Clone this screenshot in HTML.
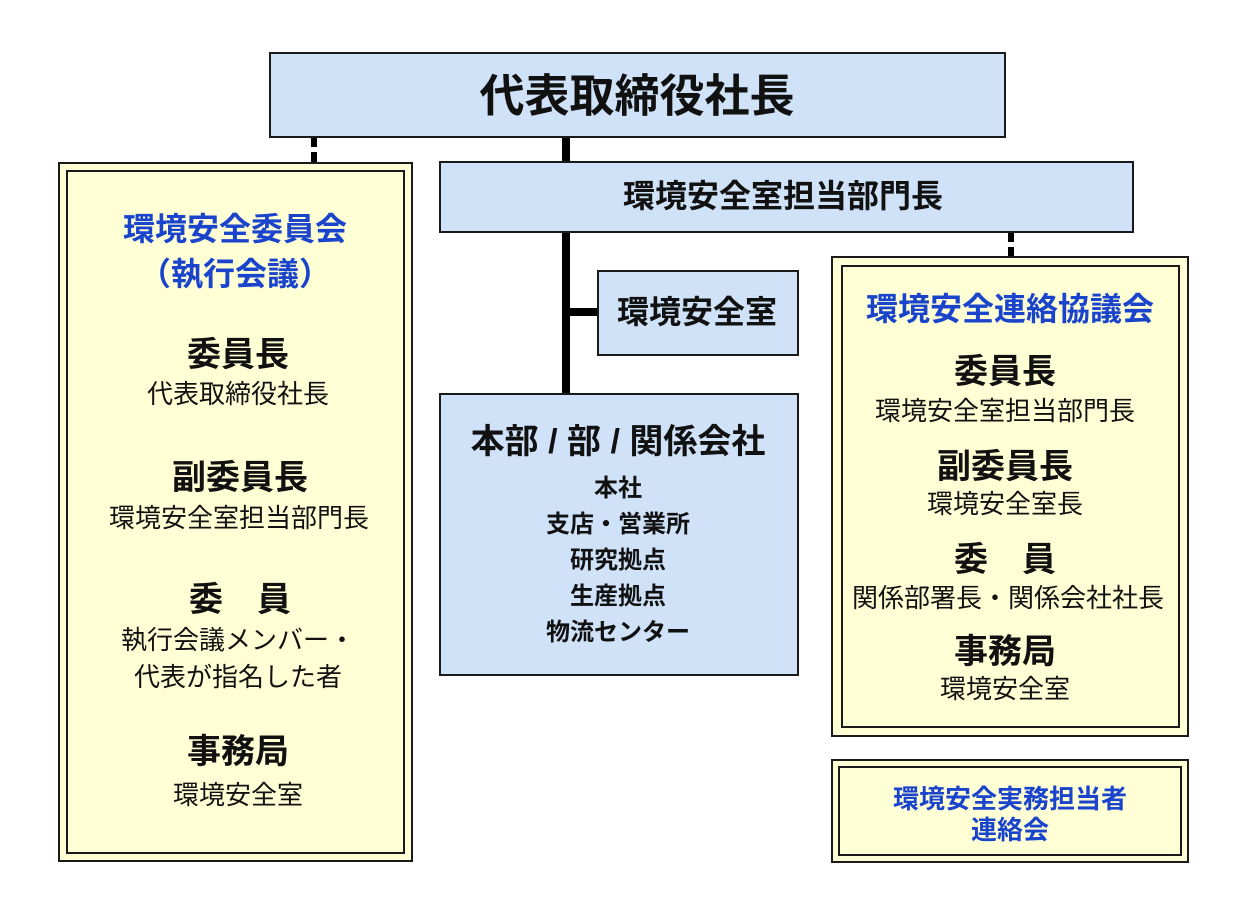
<!DOCTYPE html>
<html><head><meta charset="utf-8"><style>
body{margin:0;width:1250px;height:920px;background:#fff;position:relative;overflow:hidden;font-family:"Liberation Sans","Noto Sans CJK JP",sans-serif;color:#111}
.b{position:absolute;box-sizing:border-box;border:2px solid #1a1a1a}
.blue{background:#cfe2f8}
.y{background:#ffffd6}
.t{position:absolute;transform:translate(-50%,-50%);white-space:nowrap;font-weight:bold;line-height:1}
.s{font-weight:normal;font-size:26px}
.bl{color:#1a44cc}
.l{position:absolute;background:#000}
</style></head><body>
<div class="l" style="left:562px;top:136px;width:8px;height:27px"></div>
<div class="l" style="left:562px;top:231px;width:8px;height:163px"></div>
<div class="l" style="left:566px;top:308px;width:32px;height:8px"></div>
<div class="l" style="left:311px;top:137px;width:6px;height:10px"></div>
<div class="l" style="left:311px;top:152px;width:6px;height:10px"></div>
<div class="l" style="left:1008px;top:232px;width:6px;height:10px"></div>
<div class="l" style="left:1008px;top:247px;width:6px;height:10px"></div>

<div class="b blue" style="left:269px;top:52px;width:737px;height:86px"></div>
<div class="t" style="left:637px;top:96px;font-size:45px">代表取締役社長</div>

<div class="b blue" style="left:439px;top:161px;width:695px;height:72px"></div>
<div class="t" style="left:783px;top:196px;font-size:32px">環境安全室担当部門長</div>

<div class="b blue" style="left:597px;top:270px;width:202px;height:86px"></div>
<div class="t" style="left:697px;top:312px;font-size:32px">環境安全室</div>

<div class="b blue" style="left:439px;top:393px;width:360px;height:283px"></div>
<div class="t" style="left:618px;top:442px;font-size:34px">本部 / 部 / 関係会社</div>
<div class="t" style="left:618px;top:489px;font-size:24px">本社</div>
<div class="t" style="left:618px;top:525px;font-size:24px">支店・営業所</div>
<div class="t" style="left:618px;top:561px;font-size:24px">研究拠点</div>
<div class="t" style="left:618px;top:597px;font-size:24px">生産拠点</div>
<div class="t" style="left:618px;top:633px;font-size:24px">物流センター</div>

<div class="b y" style="left:58px;top:162px;width:355px;height:700px"></div>
<div class="b y" style="left:66px;top:170px;width:339px;height:684px"></div>
<div class="t bl" style="left:235px;top:229px;font-size:32px">環境安全委員会</div>
<div class="t bl" style="left:235px;top:274px;font-size:32px">（執行会議）</div>
<div class="t" style="left:238px;top:355px;font-size:34px">委員長</div>
<div class="t s" style="left:238px;top:394px">代表取締役社長</div>
<div class="t" style="left:240px;top:478px;font-size:34px">副委員長</div>
<div class="t s" style="left:239px;top:518px">環境安全室担当部門長</div>
<div class="t" style="left:240px;top:600px;font-size:34px">委　員</div>
<div class="t s" style="left:238px;top:640px">執行会議メンバー・</div>
<div class="t s" style="left:238px;top:677px">代表が指名した者</div>
<div class="t" style="left:238px;top:752px;font-size:34px">事務局</div>
<div class="t s" style="left:238px;top:795px">環境安全室</div>

<div class="b y" style="left:831px;top:256px;width:358px;height:481px"></div>
<div class="b y" style="left:841px;top:265px;width:339px;height:463px"></div>
<div class="t bl" style="left:1010px;top:309px;font-size:32px">環境安全連絡協議会</div>
<div class="t" style="left:1005px;top:372px;font-size:34px">委員長</div>
<div class="t s" style="left:1005px;top:411px">環境安全室担当部門長</div>
<div class="t" style="left:1005px;top:467px;font-size:34px">副委員長</div>
<div class="t s" style="left:1005px;top:504px">環境安全室長</div>
<div class="t" style="left:1005px;top:560px;font-size:34px">委　員</div>
<div class="t s" style="left:1008px;top:598px">関係部署長・関係会社社長</div>
<div class="t" style="left:1005px;top:652px;font-size:34px">事務局</div>
<div class="t s" style="left:1005px;top:689px">環境安全室</div>

<div class="b y" style="left:831px;top:759px;width:358px;height:104px"></div>
<div class="b y" style="left:838px;top:766px;width:344px;height:90px"></div>
<div class="t bl" style="left:1010px;top:799px;font-size:26px">環境安全実務担当者</div>
<div class="t bl" style="left:1010px;top:830px;font-size:26px">連絡会</div>
</body></html>
